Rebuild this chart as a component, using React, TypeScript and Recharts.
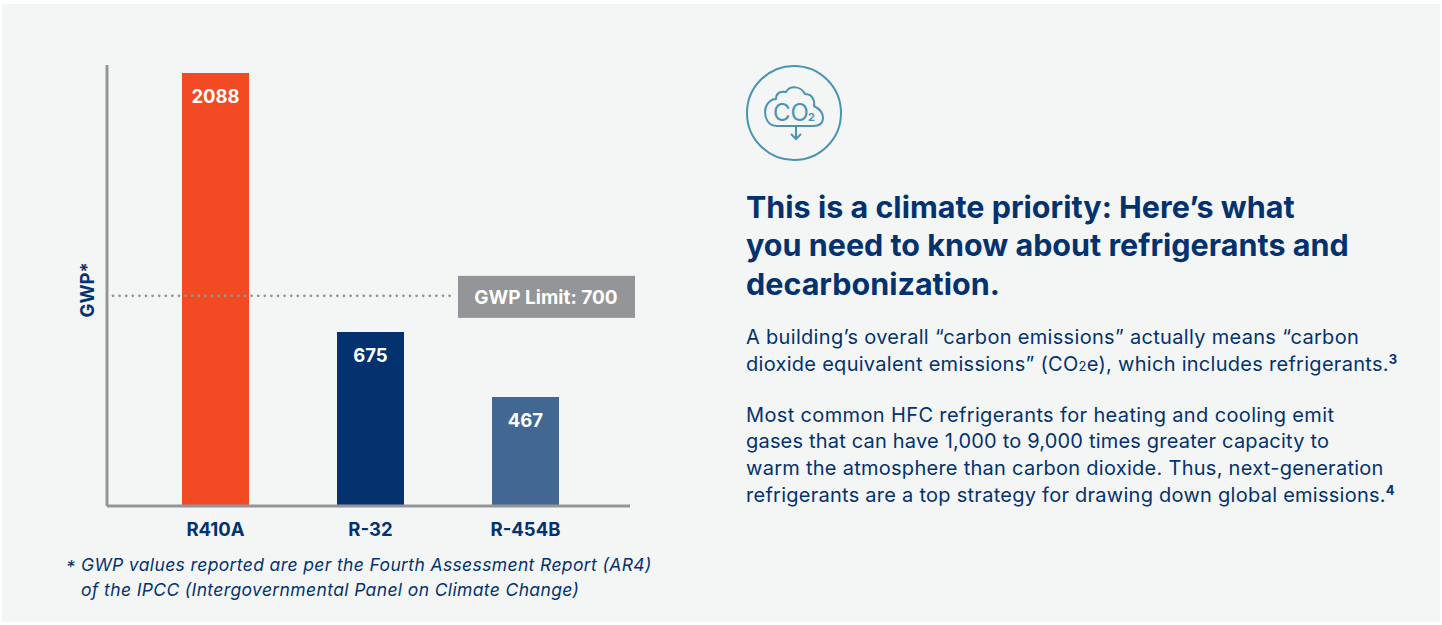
import React from "react";
import { BarChart, Bar, XAxis, YAxis, Cell, LabelList, ReferenceLine } from "recharts";

const NAVY = "#03326f";
const GREY = "#939598";
const TEAL = "#4b93b2";
const FONT = "Inter, 'Noto Sans', sans-serif";

const categories = ["R410A", "R-32", "R-454B"];
// Printed GWP values.
const gwpValues = [2088, 675, 467];
// The reference's bars are not drawn to scale, so heights are read off the picture
// in the tallest bar's units, and the printed values remain the labels.
const drawnHeights = [2088, 839, 526];
const barColors = ["#f24a23", "#03326f", "#426793"];
const limitDrawnHeight = 1013;
const limitLabel = "GWP Limit: 700";
const yMax = 2126;

const chartData = categories.map((name, i) => ({ name, height: drawnHeights[i], value: gwpValues[i] }));

const headingLines = [
  "This is a climate priority: Here’s what",
  "you need to know about refrigerants and",
  "decarbonization.",
];
const footnoteLines = [
  "GWP values reported are per the Fourth Assessment Report (AR4)",
  "of the IPCC (Intergovernmental Panel on Climate Change)",
];

const abs = (left: number, top: number, extra: React.CSSProperties = {}): React.CSSProperties => ({
  position: "absolute",
  left,
  top,
  whiteSpace: "nowrap",
  fontFamily: FONT,
  color: NAVY,
  ...extra,
});

const body = (letterSpacing: number): React.CSSProperties => ({ fontSize: 20, lineHeight: "26px", letterSpacing });
const Sup = ({ c }: { c: string }) => (
  <span style={{ fontSize: 13, fontWeight: 700, lineHeight: 0, letterSpacing: 0, position: "relative", top: -7 }}>{c}</span>
);

const LimitShape = (p: any) => (
  <line
    x1={p.x1 + 6}
    x2={455}
    y1={p.y1}
    y2={p.y2}
    stroke={GREY}
    strokeWidth={2.8}
    strokeLinecap="round"
    strokeDasharray="0 6.6"
  />
);

const LimitBox = (p: any) => {
  const cy = p.viewBox.y;
  return (
    <g>
      <rect x={458} y={cy - 20} width={177} height={42} fill={GREY} />
      <text x={546} y={cy + 8} textAnchor="middle" fill="#fff" fontSize={19} fontWeight={700} fontFamily={FONT}>
        {limitLabel}
      </text>
    </g>
  );
};

const Chart = () => (
  <div style={{ position: "absolute", left: 0, top: 0 }}>
    <BarChart width={720} height={625} data={chartData} margin={{ top: 65, right: 90, bottom: 0, left: 60 }}>
      <XAxis
        dataKey="name"
        height={119}
        padding={{ left: 31, right: 27 }}
        axisLine={{ stroke: GREY, strokeWidth: 3 }}
        tickLine={false}
        tickMargin={11}
        tick={{ fill: NAVY, fontSize: 18.5, fontWeight: 700, fontFamily: FONT }}
        interval={0}
      />
      <YAxis
        width={47}
        domain={[0, yMax]}
        allowDataOverflow
        tick={false}
        tickLine={false}
        axisLine={{ stroke: GREY, strokeWidth: 3 }}
        label={{
          value: "GWP*",
          angle: -90,
          position: "insideLeft",
          dx: 22,
          dy: 32,
          fill: NAVY,
          fontSize: 18.5,
          fontWeight: 700,
          fontFamily: FONT,
        }}
      />
      <Bar dataKey="height" barSize={67} isAnimationActive={false}>
        {chartData.map((d, i) => (
          <Cell key={d.name} fill={barColors[i]} />
        ))}
        <LabelList
          dataKey="value"
          position="insideTop"
          offset={17}
          fill="#fff"
          fontSize={18.5}
          fontWeight={700}
          fontFamily={FONT}
        />
      </Bar>
      <ReferenceLine y={limitDrawnHeight} shape={LimitShape} label={LimitBox} />
    </BarChart>
  </div>
);

const Icon = () => (
  <svg style={{ position: "absolute", left: 745, top: 64 }} width={98} height={98} viewBox="0 0 98 98" fill="none">
    <circle cx={49} cy={49} r={47} stroke={TEAL} strokeWidth={2} />
    <path
      d="M32 62 C23 62 20 54 20 48 C20 41 25 35 31 35 C31 28 37 27 41 28 C45 21 56 22 60 30 C67 30 70 36 69 42 C75 45 78 50 78 54 C78 60 73 62 68 62 Z"
      stroke={TEAL}
      strokeWidth={2}
      strokeLinejoin="round"
    />
    <text x={28} y={57} fontSize={24} fill={TEAL} fontFamily={FONT}>CO</text>
    <text x={63} y={57} fontSize={11} fontWeight={700} fill={TEAL} fontFamily={FONT}>2</text>
    <path d="M51 62 V74 M46 70 L51 75 L56 70" stroke={TEAL} strokeWidth={2} />
  </svg>
);

export default function App() {
  const foot: React.CSSProperties = { fontSize: 17.5, letterSpacing: 0.37, fontStyle: "italic", lineHeight: "24px" };
  return (
    <div style={{ position: "absolute", left: 0, top: 0, width: 1442, height: 625, background: "#fff", overflow: "hidden" }}>
      <div style={{ position: "absolute", left: 2, top: 4, width: 1438, height: 618, background: "#f4f6f5" }} />
      <Chart />
      <div style={abs(66, 555, foot)}>*</div>
      {footnoteLines.map((t, i) => (
        <div key={t} style={abs(81, 553 + i * 25, foot)}>{t}</div>
      ))}
      <Icon />
      {[187, 225, 264].map((top, i) => (
        <div key={top} style={abs(746, top, { fontSize: 30.5, fontWeight: 700, lineHeight: "39px" })}>{headingLines[i]}</div>
      ))}
      <div style={abs(746, 324, body(0.31))}>A building’s overall “carbon emissions” actually means “carbon</div>
      <div style={abs(746, 351, body(0.28))}>
        dioxide equivalent emissions” (CO<span style={{ fontSize: 13 }}>2</span>e), which includes refrigerants.<Sup c="3" />
      </div>
      <div style={abs(746, 402, body(0.36))}>Most common HFC refrigerants for heating and cooling emit</div>
      <div style={abs(746, 428, body(0.19))}>gases that can have 1,000 to 9,000 times greater capacity to</div>
      <div style={abs(746, 455, body(0.27))}>warm the atmosphere than carbon dioxide. Thus, next-generation</div>
      <div style={abs(746, 482, body(0.26))}>
        refrigerants are a top strategy for drawing down global emissions.<Sup c="4" />
      </div>
    </div>
  );
}
